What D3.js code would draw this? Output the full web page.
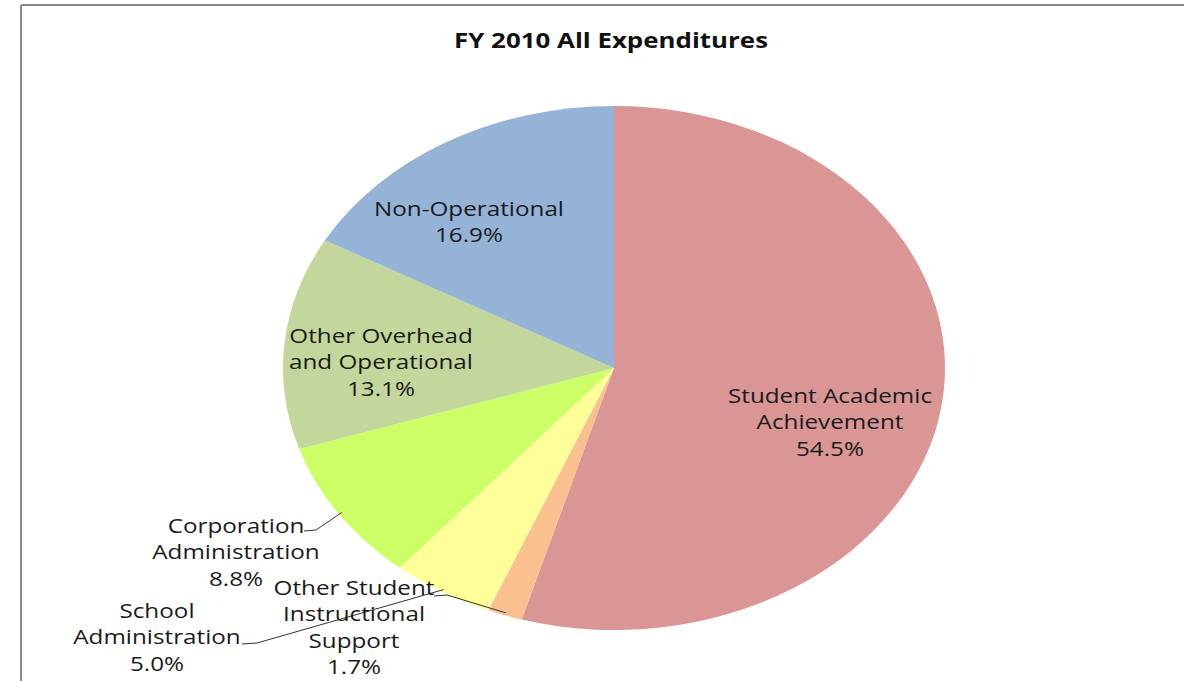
<!DOCTYPE html>
<html>
<head>
<meta charset="utf-8">
<script src="https://cdn.jsdelivr.net/npm/d3@7"></script>
<style>
  body { margin: 0; background: #fff; }
  svg { display: block; }
</style>
</head>
<body>
<div class="container"></div>
<script>
const size = { width: 1184, height: 681 };

// chart data
const categories = ["Student Academic Achievement", "Other Student Instructional Support",
  "School Administration", "Corporation Administration",
  "Other Overhead and Operational", "Non-Operational"];
const values = [54.5, 1.7, 5.0, 8.8, 13.1, 16.9];
const colors = ["#d99694", "#fac08f", "#ffff99", "#ccff66", "#c3d69b", "#95b3d7"];
const labelLines = [
  ["Student Academic", "Achievement"],
  ["Other Student", "Instructional", "Support"],
  ["School", "Administration"],
  ["Corporation", "Administration"],
  ["Other Overhead", "and Operational"],
  ["Non-Operational"]
];

// layout (label anchors, leader starts)
const labelPos = [[830, 403], [354, 595], [157, 618], [236, 533], [381, 343], [469, 216]];
const leaderStart = { 1: [434, 596, 447], 2: [242, 644, 257], 3: [304, 531, 316] };

const cx = 614, cy = 368, rx = 331, ry = 262;
const stretch = rx / ry;
const lineH = 26.5;

const svg = d3.select(".container")
  .append("svg")
  .attr("width", size.width)
  .attr("height", size.height);

// frame lines
svg.append("line").attr("x1", 21).attr("x2", size.width).attr("y1", 5).attr("y2", 5)
  .attr("stroke", "#8a8a8a").attr("stroke-width", 2);
svg.append("line").attr("x1", 21).attr("x2", 21).attr("y1", 5).attr("y2", size.height)
  .attr("stroke", "#8a8a8a").attr("stroke-width", 2);

svg.append("text")
  .attr("transform", `translate(611,48) scale(${stretch},1)`)
  .attr("text-anchor", "middle")
  .attr("font-family", "'Open Sans', sans-serif")
  .attr("font-weight", "bold")
  .attr("font-size", 20.5)
  .attr("fill", "#111")
  .text("FY 2010 All Expenditures");

const data = categories.map((c, i) => ({ name: c, value: values[i], i: i }));
const pie = d3.pie().value(d => d.value).sort(null);
const arcs = pie(data);
const arc = d3.arc().innerRadius(0).outerRadius(ry);

const g = svg.append("g")
  .attr("transform", `translate(${cx},${cy}) scale(${stretch},1)`);

g.selectAll("path")
  .data(arcs)
  .enter()
    .append("path")
    .attr("d", arc)
    .attr("fill", d => colors[d.data.i]);

// leader lines
const edgePoint = (d) => {
  const a = (d.startAngle + d.endAngle) / 2;
  return [cx + rx * Math.sin(a) * 0.99, cy - ry * Math.cos(a) * 0.99];
};

arcs.forEach(d => {
  const s = leaderStart[d.data.i];
  if (!s) return;
  const p = edgePoint(d);
  svg.append("path")
    .attr("d", d3.line()([[s[0], s[1]], [s[2], s[1] - 1], p]))
    .attr("fill", "none")
    .attr("stroke", "#333")
    .attr("stroke-width", 1);
});

// labels
arcs.forEach(d => {
  const i = d.data.i;
  const lines = labelLines[i].concat([d3.format(".1f")(d.data.value) + "%"]);
  const t = svg.append("text")
    .attr("transform", `translate(${labelPos[i][0]},${labelPos[i][1]}) scale(${stretch},1)`)
    .attr("text-anchor", "middle")
    .attr("font-family", "'Open Sans', sans-serif")
    .attr("font-size", 19.2)
    .attr("fill", "#1a1a1a");
  lines.forEach((l, k) => {
    t.append("tspan").attr("x", 0).attr("y", k * lineH).text(l);
  });
});
</script>
</body>
</html>
